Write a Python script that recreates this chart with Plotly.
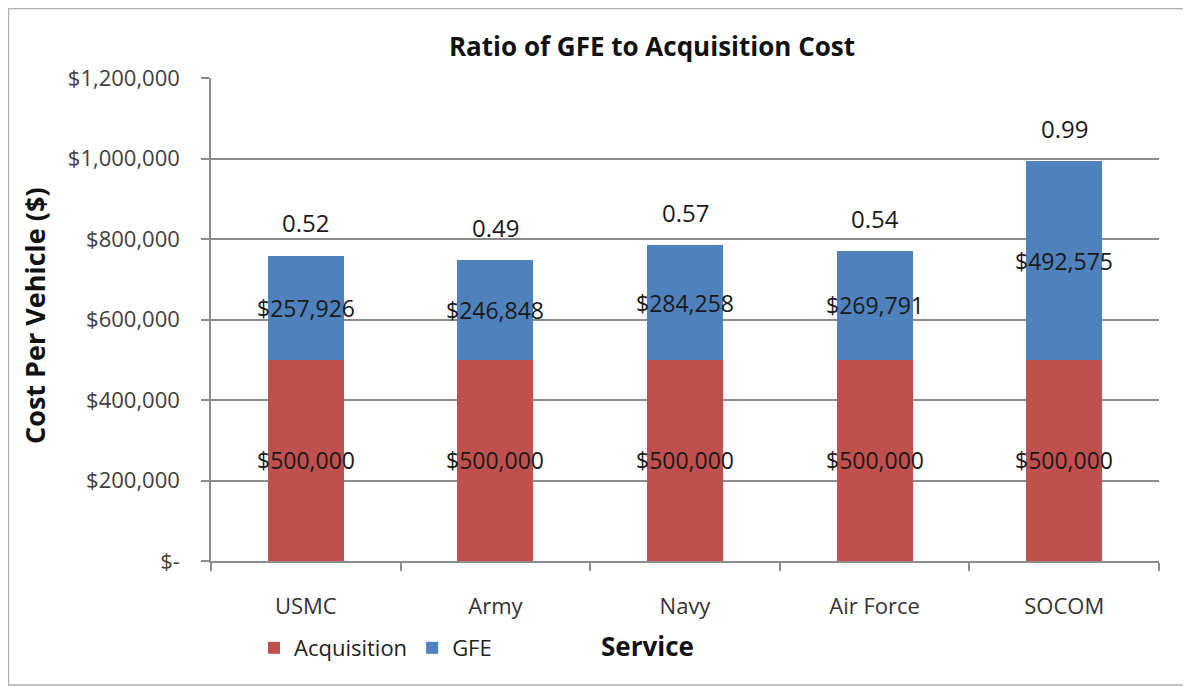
import plotly.graph_objects as go

# ---- data ----
services = ["USMC", "Army", "Navy", "Air Force", "SOCOM"]
acquisition = [500000, 500000, 500000, 500000, 500000]
gfe = [257926, 246848, 284258, 269791, 492575]
y_tick_vals = [0, 200000, 400000, 600000, 800000, 1000000, 1200000]
y_tick_text = ["$-", "$200,000", "$400,000", "$600,000", "$800,000", "$1,000,000", "$1,200,000"]

RED = "#C0504D"
BLUE = "#4F81BD"
GRID = "#8c8c8c"
FONT = "Open Sans"

# page has an 8px body margin; work in page pixels and convert
OFF = 8
W, H = 1191 - OFF, 687 - OFF
PL, PR, PT, PB = 211, 1159, 78, 561  # plot area in page pixels
L, T = PL - OFF, PT - OFF
R = W - (PR - OFF)
B = H - (PB - OFF)
pw, ph = PR - PL, PB - PT


def px_x(x):
    return (x - PL) / pw


def px_y(y):
    return (PB - y) / ph


fig = go.Figure()
fig.add_trace(go.Bar(name="Acquisition", x=services, y=acquisition,
                     marker=dict(color=RED, line=dict(width=0))))
fig.add_trace(go.Bar(name="GFE", x=services, y=gfe,
                     marker=dict(color=BLUE, line=dict(width=0))))

annotations = []
for s, a, g in zip(services, acquisition, gfe):
    annotations.append(dict(x=s, y=a / 2, xref="x", yref="y", text=f"${a:,.0f}",
                            showarrow=False, font=dict(family=FONT, size=23, color="#1a1a1a")))
    annotations.append(dict(x=s, y=a + g / 2, xref="x", yref="y", text=f"${g:,.0f}",
                            showarrow=False, font=dict(family=FONT, size=23, color="#1a1a1a")))
    annotations.append(dict(x=s, y=a + g, xref="x", yref="y", text=f"{g / a:.2f}",
                            showarrow=False, yshift=33,
                            font=dict(family=FONT, size=24, color="#1a1a1a")))

# axis titles
annotations.append(dict(x=px_x(647), y=px_y(646), xref="paper", yref="paper",
                        xanchor="center", yanchor="middle",
                        text="<b>Service</b>", showarrow=False,
                        font=dict(family=FONT, size=26, color="#111")))
annotations.append(dict(x=px_x(34), y=px_y(316), xref="paper", yref="paper",
                        xanchor="center", yanchor="middle",
                        text="<b>Cost Per Vehicle ($)</b>", showarrow=False, textangle=-90,
                        font=dict(family=FONT, size=27, color="#111")))

fig.update_layout(
    width=W, height=H,
    margin=dict(l=L, r=R, t=T, b=B),
    paper_bgcolor="white", plot_bgcolor="white",
    barmode="stack", bargap=0.6,
    title=dict(text="<b>Ratio of GFE to Acquisition Cost</b>",
               x=px_x(652), xref="paper", xanchor="center",
               y=1 - (47 - OFF) / H, yref="container", yanchor="middle",
               font=dict(family=FONT, size=26, color="#111")),
    font=dict(family=FONT, size=22, color="#333"),
    legend=dict(orientation="h", x=px_x(254), y=px_y(648), xanchor="left", yanchor="middle",
                font=dict(family=FONT, size=22, color="#222"), traceorder="normal",
                itemwidth=30, bgcolor="rgba(0,0,0,0)"),
    annotations=annotations,
    shapes=[dict(type="rect", xref="paper", yref="paper",
                 x0=px_x(8.5), x1=px_x(1188), y0=px_y(685), y1=px_y(8.5),
                 line=dict(color="#b0b0b0", width=1.5), fillcolor="rgba(0,0,0,0)", layer="below")],
)

fig.update_yaxes(range=[0, 1200000], tickvals=y_tick_vals, ticktext=y_tick_text,
                 showgrid=True, gridcolor=GRID, gridwidth=1.5,
                 showline=True, linecolor=GRID, linewidth=1.5,
                 ticks="outside", ticklen=8, tickcolor=GRID, tickwidth=1.5,
                 ticklabelstandoff=17, zeroline=False,
                 tickfont=dict(family=FONT, size=22, color="#404040"))
fig.update_xaxes(showline=True, linecolor=GRID, linewidth=1.5,
                 ticks="outside", tickson="boundaries", ticklen=8, tickcolor=GRID, tickwidth=1.5,
                 ticklabelstandoff=25, showgrid=False,
                 tickfont=dict(family=FONT, size=22, color="#333"))

fig.write_html("out.html")
